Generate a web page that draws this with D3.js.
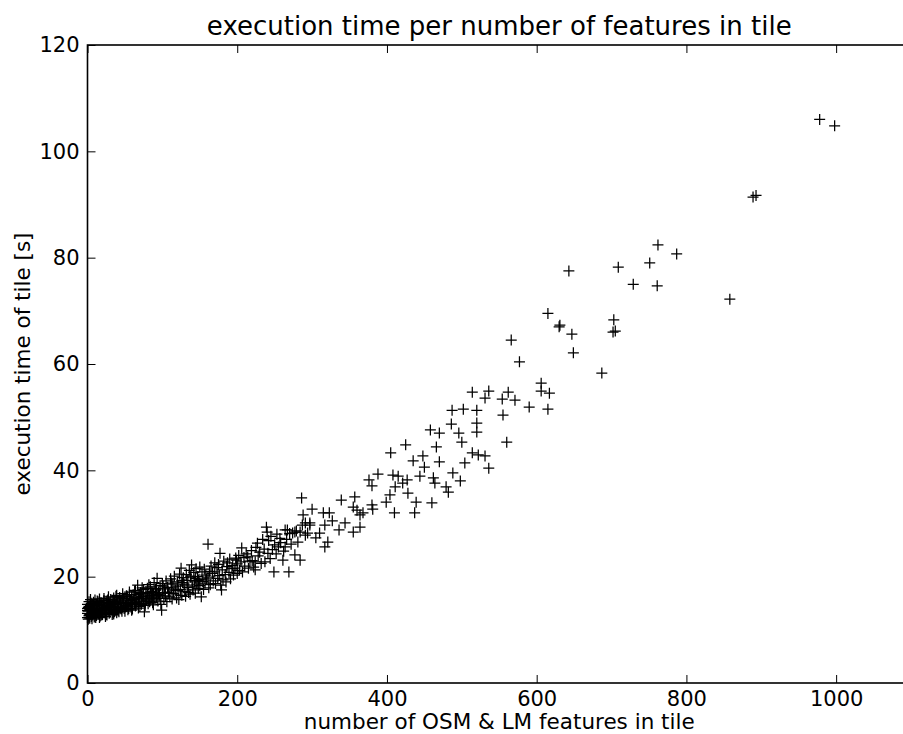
<!DOCTYPE html>
<html>
<head>
<meta charset="utf-8">
<script src="https://cdn.jsdelivr.net/npm/d3@7"></script>
<style>
  html, body { margin: 0; padding: 0; background: #fff; }
  svg { display: block; }
  text { font-family: "DejaVu Sans", sans-serif; fill: #000; }
</style>
</head>
<body>
<svg id="chart" width="903" height="734"></svg>
<script>
// ---- data ----
const title = "execution time per number of features in tile";
const xLabel = "number of OSM & LM features in tile";
const yLabel = "execution time of tile [s]";
const xTicks = [0, 200, 400, 600, 800, 1000];
const yTicks = [0, 20, 40, 60, 80, 100, 120];
const xDomain = [0, 1100];
const yDomain = [0, 120];

// number of features in tile
const features = [
  0,0,0,0,1,1,2,2,2,3,3,4,4,5,5,6,6,7,8,8,9,9,10,10,
  11,12,12,13,14,14,15,16,16,17,18,18,19,20,20,21,22,22,23,24,25,25,26,27,28,28,29,30,30,
  31,32,33,34,35,35,36,37,38,39,40,40,41,42,43,44,45,45,46,47,48,49,50,50,51,52,53,54,55,56,57,58,59,60,60,
  62,63,64,65,66,67,68,69,70,71,72,73,74,75,76,77,78,79,80,81,82,83,84,85,86,87,88,89,90,91,92,93,94,95,96,97,98,99,100,100,
  102,103,104,105,106,107,108,110,111,112,113,114,115,116,118,119,120,121,122,123,124,125,126,127,128,130,131,132,133,134,135,136,137,138,139,140,141,142,143,144,145,146,147,148,149,150,150,
  152,153,154,155,156,157,158,159,161,161,162,163,164,165,167,168,170,170,171,173,174,175,176,177,178,179,180,181,182,184,185,186,187,189,190,191,193,194,195,197,198,199,200,200,
  202,203,205,206,207,209,210,212,214,215,217,219,220,222,224,224,225,227,228,230,232,234,236,237,239,240,241,242,244,245,247,249,250,252,253,255,257,258,261,262,264,264,266,267,269,270,272,274,277,277,279,281,284,284,286,287,288,291,291,294,297,297,300,305,310,315,317,317,321,323,327,336,339,344,355,355,357,360,364,364,368,376,380,380,381,388,
  399,404,405,408,410,411,415,421,425,427,428,435,437,439,444,448,450,458,460,462,464,466,470,470,479,482,486,487,488,496,498,500,502,504,514,514,520,520,520,522,531,531,536,536,554,555,560,562,566,571,577,590,606,606,615,615,617,630,631,643,647,649,687,702,703,705,709,729,751,761,762,787,858,889,893,978,998,
  1,3,4,6,7,9,11,13,15,17,19,21,23,24,26,27,29,31,33,34,36,38,39,42,44,46,48,51,53,55,57,59,61,63,65,68,70,72,75,77,80,83,86,88,91,94,97,101,104,109,112,117,121,126,129,134,138,144,148,
  0,2,5,8,10,13,16,19,22,25,28,32,35,38,41,44,47,52,56,60,64,69,73,78,82,87,92
];

// execution time of tile [s]
const execTime = [
  12.3,13.1,14.0,14.8,12.0,13.5,12.7,14.4,15.3,12.2,13.8,13.0,14.6,12.5,15.0,13.3,14.1,12.8,13.6,15.2,12.4,14.3,13.1,15.6,
  13.9,12.7,14.8,13.4,15.3,12.9,14.1,13.6,15.8,12.6,14.5,13.2,15.1,13.8,12.9,14.9,13.5,15.9,14.2,13.0,15.4,14.0,12.8,14.7,13.7,16.2,15.0,13.3,14.5,
  15.7,13.9,14.8,13.2,16.0,14.4,15.2,13.6,14.9,16.5,13.8,15.4,14.3,13.4,16.1,14.7,15.6,13.9,14.2,16.8,15.0,14.0,13.5,15.9,14.6,16.4,15.1,13.8,14.9,17.1,15.5,14.3,16.2,14.8,13.9,
  15.7,17.3,14.5,16.0,15.2,18.4,14.1,16.6,15.4,17.0,14.8,16.3,15.8,17.6,13.4,15.0,16.9,15.6,17.8,14.9,16.4,15.3,18.1,16.0,17.2,15.1,16.7,18.9,15.8,17.5,16.2,19.7,15.4,17.0,16.5,18.3,14.8,13.7,16.9,18.7,
  15.9,17.7,16.4,19.2,15.3,18.0,17.1,16.2,19.6,17.9,15.8,18.6,16.8,20.1,17.4,16.0,19.0,18.2,15.7,20.5,17.6,21.6,16.5,18.9,19.8,17.2,16.3,20.4,18.4,19.3,17.0,21.2,16.7,19.9,22.2,18.1,17.5,20.8,19.0,16.9,21.5,18.6,20.0,17.8,19.5,18.3,21.8,
  16.2,20.9,19.1,17.6,21.4,18.8,20.3,19.6,26.1,19.9,17.9,21.0,18.5,22.0,20.6,19.2,22.6,20.9,18.7,21.7,19.7,22.3,20.2,24.4,18.4,17.5,21.3,19.4,22.9,20.4,19.0,21.9,22.6,20.8,23.3,19.6,21.5,22.1,20.3,21.6,23.5,23.1,20.6,22.4,
  24.0,21.2,22.8,25.4,20.9,23.6,22.0,24.3,23.7,21.6,22.9,24.9,23.0,21.8,22.8,21.3,25.5,26.3,23.9,24.6,22.5,27.0,25.2,22.8,29.3,28.4,24.4,26.8,23.4,27.6,25.1,20.9,26.0,24.3,28.0,25.6,27.2,26.4,23.1,24.8,28.8,25.6,27.0,28.8,20.9,28.1,26.1,28.2,24.1,28.4,28.6,26.5,23.1,28.4,34.8,29.7,31.6,30.1,27.8,28.2,29.7,30.1,32.7,27.3,28.2,32.0,29.7,25.6,26.5,32.0,30.5,28.8,34.4,30.1,28.4,33.1,35.0,32.5,29.3,31.6,32.0,38.2,37.1,33.5,32.7,39.3,
  34.0,35.4,43.3,39.1,32.0,36.9,38.9,37.6,44.8,38.2,35.7,41.8,32.0,34.0,38.9,42.7,40.6,47.6,33.9,38.6,37.6,44.4,47.0,41.6,36.9,35.9,48.7,51.3,39.5,47.0,38.0,45.3,51.5,41.4,54.7,43.3,51.3,48.9,47.2,42.9,53.6,42.7,54.9,40.4,53.4,50.4,45.3,54.7,64.5,53.2,60.4,51.9,56.4,54.9,51.5,69.5,54.5,67.0,67.3,77.5,65.6,62.1,58.3,66.0,68.3,66.2,78.2,75.0,79.0,74.7,82.4,80.7,72.2,91.4,91.7,106.0,104.8,
  14.2,12.9,15.7,12.1,14.9,13.7,12.3,14.6,13.0,15.1,12.8,14.0,13.9,12.5,14.4,15.6,13.1,14.2,12.9,15.3,13.4,14.8,13.2,15.0,14.1,13.5,15.8,14.3,16.3,14.0,15.2,13.7,16.6,14.9,15.0,16.0,14.4,16.8,15.9,14.6,17.0,15.8,16.5,14.7,17.7,16.6,15.9,18.2,17.0,16.9,18.8,17.5,17.4,19.3,18.6,18.0,20.1,19.7,19.3,
  13.6,12.4,13.9,14.7,12.6,15.4,12.3,14.0,15.5,12.9,15.0,14.2,13.0,16.3,13.6,15.2,16.0,14.5,16.6,15.1,17.4,15.9,17.9,16.2,18.5,16.9,17.8
];

// ---- layout ----
const svg = d3.select("#chart");
const margin = { left: 87.5, top: 45, right: 911, bottom: 683 };

const x = d3.scaleLinear().domain(xDomain).range([margin.left, margin.right]);
const y = d3.scaleLinear().domain(yDomain).range([margin.bottom, margin.top]);

const points = features.map((f, i) => ({ f, t: execTime[i] }));

// markers
svg.append("g")
  .selectAll("path")
  .data(points)
  .join("path")
  .attr("transform", d => `translate(${x(d.f)},${y(d.t)})`)
  .attr("d", "M-5.5,0H5.5M0,-5.5V5.5")
  .attr("stroke", "#000")
  .attr("stroke-width", 1.25)
  .attr("fill", "none");

// axes (ticks inward, on all four sides)
const fontSize = 21;
function styleAxis(g) {
  g.select(".domain").remove();
  g.selectAll(".tick line").attr("stroke", "#000").attr("stroke-width", 1);
  g.selectAll(".tick text").attr("font-size", fontSize).attr("font-family", "DejaVu Sans").attr("fill", "#000");
}

svg.append("g")
  .attr("transform", `translate(0,${margin.bottom})`)
  .call(d3.axisBottom(x).tickValues(xTicks).tickSizeInner(-8).tickSizeOuter(0).tickPadding(8).tickFormat(d3.format("d")))
  .call(styleAxis);

svg.append("g")
  .attr("transform", `translate(0,${margin.top})`)
  .call(d3.axisTop(x).tickValues(xTicks).tickSizeInner(-8).tickSizeOuter(0).tickFormat(""))
  .call(styleAxis);

svg.append("g")
  .attr("transform", `translate(${margin.left},0)`)
  .call(d3.axisLeft(y).tickValues(yTicks).tickSizeInner(-8).tickSizeOuter(0).tickPadding(8).tickFormat(d3.format("d")))
  .call(styleAxis);

svg.append("g")
  .attr("transform", `translate(${margin.right},0)`)
  .call(d3.axisRight(y).tickValues(yTicks).tickSizeInner(-8).tickSizeOuter(0).tickFormat(""))
  .call(styleAxis);

// frame
svg.append("rect")
  .attr("x", margin.left)
  .attr("y", margin.top)
  .attr("width", margin.right - margin.left)
  .attr("height", margin.bottom - margin.top)
  .attr("fill", "none")
  .attr("stroke", "#000")
  .attr("stroke-width", 1.6);

const cx = (margin.left + margin.right) / 2;
const cy = (margin.top + margin.bottom) / 2;

svg.append("text")
  .attr("x", cx)
  .attr("y", 35)
  .attr("text-anchor", "middle")
  .attr("font-size", 26)
  .text(title);

svg.append("text")
  .attr("x", cx)
  .attr("y", 729)
  .attr("text-anchor", "middle")
  .attr("font-size", 21.5)
  .text(xLabel);

svg.append("text")
  .attr("transform", `translate(30,${cy}) rotate(-90)`)
  .attr("text-anchor", "middle")
  .attr("font-size", 21.5)
  .text(yLabel);
</script>
</body>
</html>
